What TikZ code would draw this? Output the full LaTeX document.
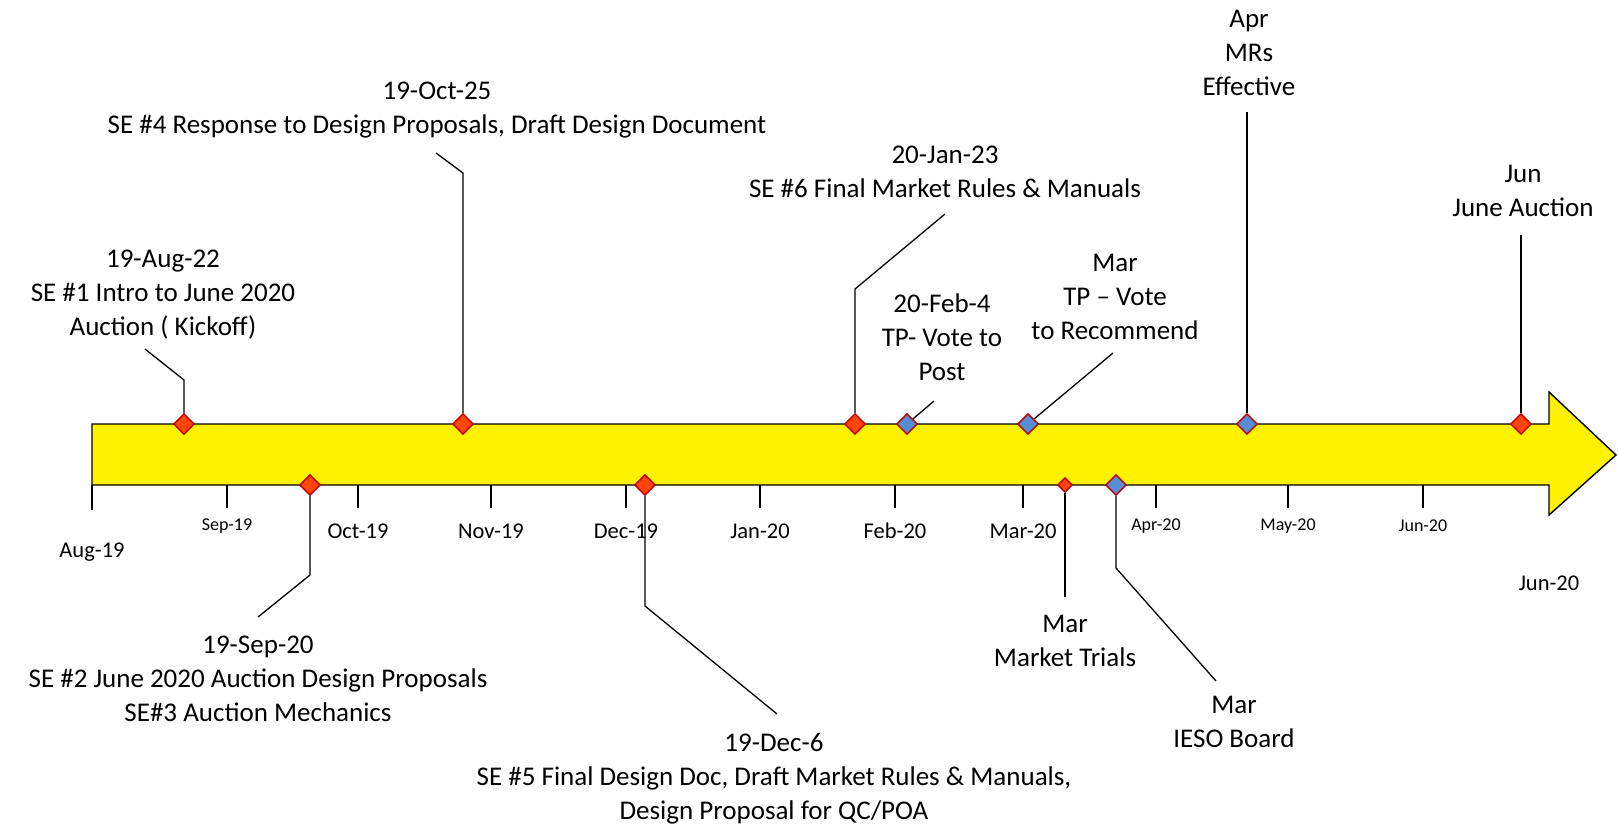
\documentclass[tikz,border=0pt]{standalone}
\usepackage{fontspec}
\setmainfont{Carlito}
\usetikzlibrary{shapes.geometric}

\definecolor{mkred}{RGB}{250,70,10}
\definecolor{mkblue}{RGB}{85,142,213}
\definecolor{mkedge}{RGB}{192,0,0}

\tikzset{
  evt/.style={diamond,draw=mkedge,line width=1.4pt,inner sep=0pt,minimum size=21pt},
  evtred/.style={evt,fill=mkred},
  evtblue/.style={evt,fill=mkblue},
  lbl/.style={align=center,inner sep=0pt,font=\fontsize{27}{34}\selectfont},
  monbig/.style={inner sep=0pt,font=\fontsize{22.5}{26}\selectfont},
  monsmall/.style={inner sep=0pt,font=\fontsize{18}{21}\selectfont},
  lead/.style={line width=1.3pt}
}

\begin{document}
\begin{tikzpicture}[x=1pt,y=-1pt]
  \useasboundingbox (0,0) rectangle (1619,828);
  % timeline
  \draw[fill=yellow,line width=1.4pt] (92,424) -- (1549,424) -- (1549,392)
    -- (1616,455) -- (1549,515) -- (1549,485) -- (92,485) -- cycle;
  \draw[line width=1.4pt] (92,485) -- (92,510);
  \node[monbig] (M0) at (92,552) {Aug-19};
  \foreach \x/\y/\m/\f [count=\i] in {227/526/Sep-19/monsmall,358/531/Oct-19/monbig,
      491/531/Nov-19/monbig,626/531/Dec-19/monbig,760/531/Jan-20/monbig,
      895/531/Feb-20/monbig,1023/531/Mar-20/monbig,1156/526/Apr-20/monsmall,
      1288/526/May-20/monsmall,1423/526/Jun-20/monsmall}{
    \draw[line width=1.4pt] (\x,485) -- (\x,508);
    \node[\f] (M\i) at (\x,\y) {\m};
  }
  \node[monbig] (M11) at (1549,583) {Jun-20};

  % markers
  \node[evtred] (D1) at (184,424) {};
  \node[evtred] (D4) at (463,424) {};
  \node[evtred] (D6) at (855,424) {};
  \node[evtblue] (DP) at (907,424) {};
  \node[evtblue] (DR) at (1028,424) {};
  \node[evtblue] (DE) at (1247,424) {};
  \node[evtred] (DJ) at (1521,424) {};
  \node[evtred] (D2) at (310,485) {};
  \node[evtred] (D5) at (645,485) {};
  \node[evtred,minimum size=15pt] (DT) at (1065,485) {};
  \node[evtblue] (DB) at (1116,485) {};

  % events above
  \node[lbl] (L1) at (163,295) {19-Aug-22\\SE \#1 Intro to June 2020\\Auction ( Kickoff)};
  \node[lbl] (L4) at (437,110) {19-Oct-25\\SE \#4 Response to Design Proposals, Draft Design Document};
  \node[lbl] (L6) at (945,172) {20-Jan-23\\SE \#6 Final Market Rules \& Manuals};
  \node[lbl] (LP) at (942,337) {20-Feb-4\\TP- Vote to\\Post};
  \node[lbl] (LR) at (1115,297) {Mar\\TP -- Vote\\to Recommend};
  \node[lbl] (LE) at (1249,53) {Apr\\MRs\\Effective};
  \node[lbl] (LJ) at (1523,191) {Jun\\June Auction};
  % events below
  \node[lbl] (L2) at (258,679) {19-Sep-20\\SE \#2 June 2020 Auction Design Proposals\\SE\#3 Auction Mechanics};
  \node[lbl] (L5) at (774,779) {19-Dec-6\\SE \#5 Final Design Doc, Draft Market Rules \& Manuals,\\Design Proposal for QC/POA};
  \node[lbl] (LT) at (1065,641) {Mar\\Market Trials};
  \node[lbl] (LB) at (1234,722) {Mar\\IESO Board};

  % bends and ends of leaders
  \coordinate (B1) at (184,380);  \coordinate (E1) at (145,349);
  \coordinate (B4) at (463,173);  \coordinate (E4) at (436,153);
  \coordinate (B6) at (855,289);  \coordinate (E6) at (945,214);
  \coordinate (EP) at (934,401);
  \coordinate (ER) at (1113,353);
  \coordinate (EE) at (1247,112);
  \coordinate (EJ) at (1521,235);
  \coordinate (B2) at (310,575);  \coordinate (E2) at (258,617);
  \coordinate (B5) at (645,606);  \coordinate (E5) at (777,714);
  \coordinate (ET) at (1065,597);
  \coordinate (BB) at (1116,568); \coordinate (EB) at (1216,681);

  \draw[lead] (D1) -- (B1) -- (E1);
  \draw[lead] (D4) -- (B4) -- (E4);
  \draw[lead] (D6) -- (B6) -- (E6);
  \draw[lead] (DP) -- (EP);
  \draw[lead] (DR) -- (ER);
  \draw[lead] (DE) -- (EE);
  \draw[lead] (DJ) -- (EJ);
  \draw[lead] (D2) -- (B2) -- (E2);
  \draw[lead] (D5) -- (B5) -- (E5);
  \draw[lead] (DT) -- (ET);
  \draw[lead] (DB) -- (BB) -- (EB);
\end{tikzpicture}
\end{document}
